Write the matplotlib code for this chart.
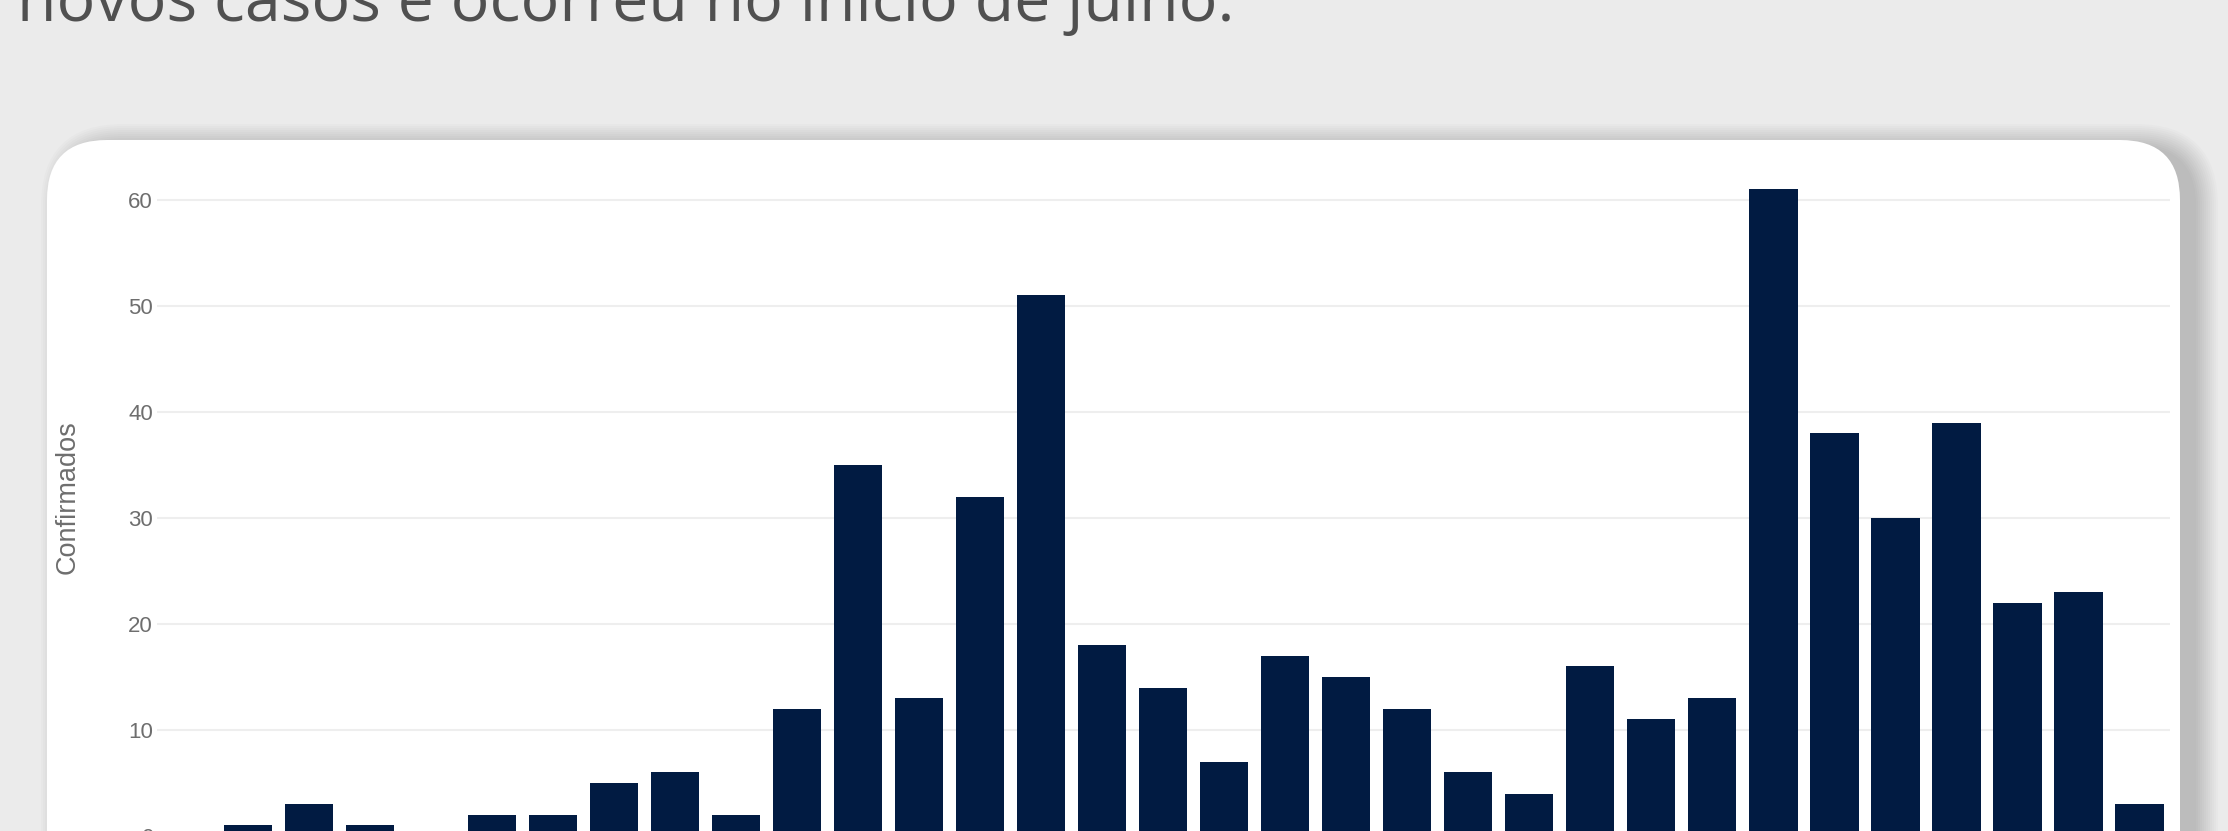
import matplotlib
matplotlib.use("Agg")
import matplotlib.pyplot as plt
from matplotlib.patches import FancyBboxPatch
from matplotlib.transforms import IdentityTransform
import numpy as np

# daily confirmed cases
dias = list(range(33))
confirmados = [0, 1, 3, 1, 0, 2, 2, 5, 6, 2, 12, 35, 13, 32, 51, 18, 14,
               7, 17, 15, 12, 6, 4, 16, 11, 13, 61, 38, 30, 39, 22, 23, 3]
yticks = [0, 10, 20, 30, 40, 50, 60]
titulo = "novos casos e ocorreu no início de julho."
ylabel = "Confirmados"

W, H = 2228, 831
fig = plt.figure(figsize=(W / 100, H / 100), dpi=100)
fig.patch.set_facecolor("#ebebeb")
px = IdentityTransform()

# card shadow (soft, pushed to the right)
cx0, cx1, ctop = 47, 2180, 140
for i in range(12):
    g = i * 2.0
    sh = FancyBboxPatch((cx0 + 16 - g, -60 - g), (cx1 - cx0) + 2 * g, (H - ctop) + 60 + 2 * g - 6,
                        boxstyle="round,pad=0,rounding_size=%f" % (60 + g),
                        transform=px, facecolor="#000000", edgecolor="none",
                        alpha=0.014, zorder=-6)
    fig.add_artist(sh)

card = FancyBboxPatch((cx0, -60), cx1 - cx0, (H - ctop) + 60,
                      boxstyle="round,pad=0,rounding_size=60",
                      transform=px, facecolor="white", edgecolor="none", zorder=-5)
fig.add_artist(card)

# plot area in pixels: x 156.5..2170, y zero at 836 from top, 10.6 px per unit
x0, x1 = 156.5, 2170.0
y_zero = 836.0
ppu = 10.6
ymax = 64.2
ax = fig.add_axes([x0 / W, (H - y_zero) / H, (x1 - x0) / W, ymax * ppu / H])
ax.set_facecolor("none")
ax.set_zorder(1)

ax.bar(dias, confirmados, width=0.79, color="#011b42", zorder=3)
ax.set_xlim(-0.5, len(dias) - 0.5)
ax.set_ylim(0, ymax)
ax.set_yticks(yticks)
ax.set_xticks([])
ax.grid(axis="y", color="#eeeeee", linewidth=1.5, zorder=0)
ax.tick_params(axis="y", length=0, pad=2.5, labelsize=16, labelcolor="#6e6e6e")
for lab in ax.get_yticklabels():
    lab.set_fontfamily("Liberation Sans")
for s in ax.spines.values():
    s.set_visible(False)

fig.text(68, H - 497, ylabel, transform=px, rotation=90, ha="center", va="center",
         fontsize=19.5, color="#6e6e6e", family="Liberation Sans")

# headline, cut off at the top of the screenshot
t = fig.text(17, H - 21, titulo, transform=px, ha="left", va="baseline",
             fontsize=40, color="#505050", family="Open Sans")
fig.canvas.draw()
wpx = t.get_window_extent().width
t.set_fontsize(40 * 1215 / wpx)

fig.savefig("out.png", dpi=100, facecolor=fig.get_facecolor())
